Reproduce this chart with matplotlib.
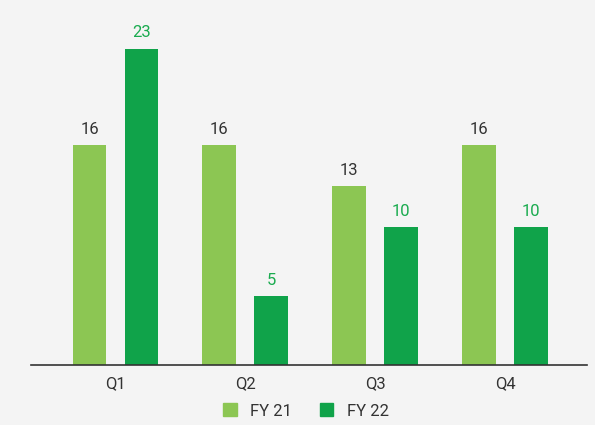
import matplotlib
matplotlib.use("Agg")
import matplotlib.pyplot as plt
import numpy as np
from matplotlib.patches import Patch

categories = ["Q1", "Q2", "Q3", "Q4"]
series_names = ["FY 21", "FY 22"]
fy21 = [16, 16, 13, 16]
fy22 = [23, 5, 10, 10]

c21 = "#8cc653"
c22 = "#10a34a"
bg = "#f4f4f4"

plt.rcParams['font.family'] = ['Roboto', 'DejaVu Sans']

fig = plt.figure(figsize=(5.95, 4.25), dpi=100, facecolor=bg)
ax = fig.add_axes([31/595, 60/425, 556/595, 355/425])
ax.set_facecolor(bg)

x = np.arange(len(categories))
w = 0.26
off = 0.2
ax.bar(x - off, fy21, w, color=c21)
ax.bar(x + off, fy22, w, color=c22)

for xi, v in zip(x, fy21):
    ax.text(xi - off, v + 0.6, str(v), ha="center", va="bottom", fontsize=12, color="#333333")
for xi, v in zip(x, fy22):
    ax.text(xi + off, v + 0.6, str(v), ha="center", va="bottom", fontsize=12, color="#1aab4f")

ax.set_xlim(-0.65, 3.63)
ax.set_ylim(0, 25.8)
ax.set_xticks(x)
ax.set_xticklabels(categories, fontsize=12, color="#333333")
ax.tick_params(axis="x", length=0, pad=8)
ax.set_yticks([])
for s in ["top", "right", "left"]:
    ax.spines[s].set_visible(False)
ax.spines["bottom"].set_color("#333333")
ax.spines["bottom"].set_linewidth(1.2)

handles = [Patch(color=c21), Patch(color=c22)]
fig.legend(handles, series_names, loc="center", bbox_to_anchor=(306/595, 1 - 411/425),
           ncol=2, frameon=False, fontsize=12, handlelength=0.8, handleheight=0.8,
           handletextpad=0.8, columnspacing=1.7, labelcolor="#333333")

fig.savefig("out.png", dpi=100, facecolor=bg)
